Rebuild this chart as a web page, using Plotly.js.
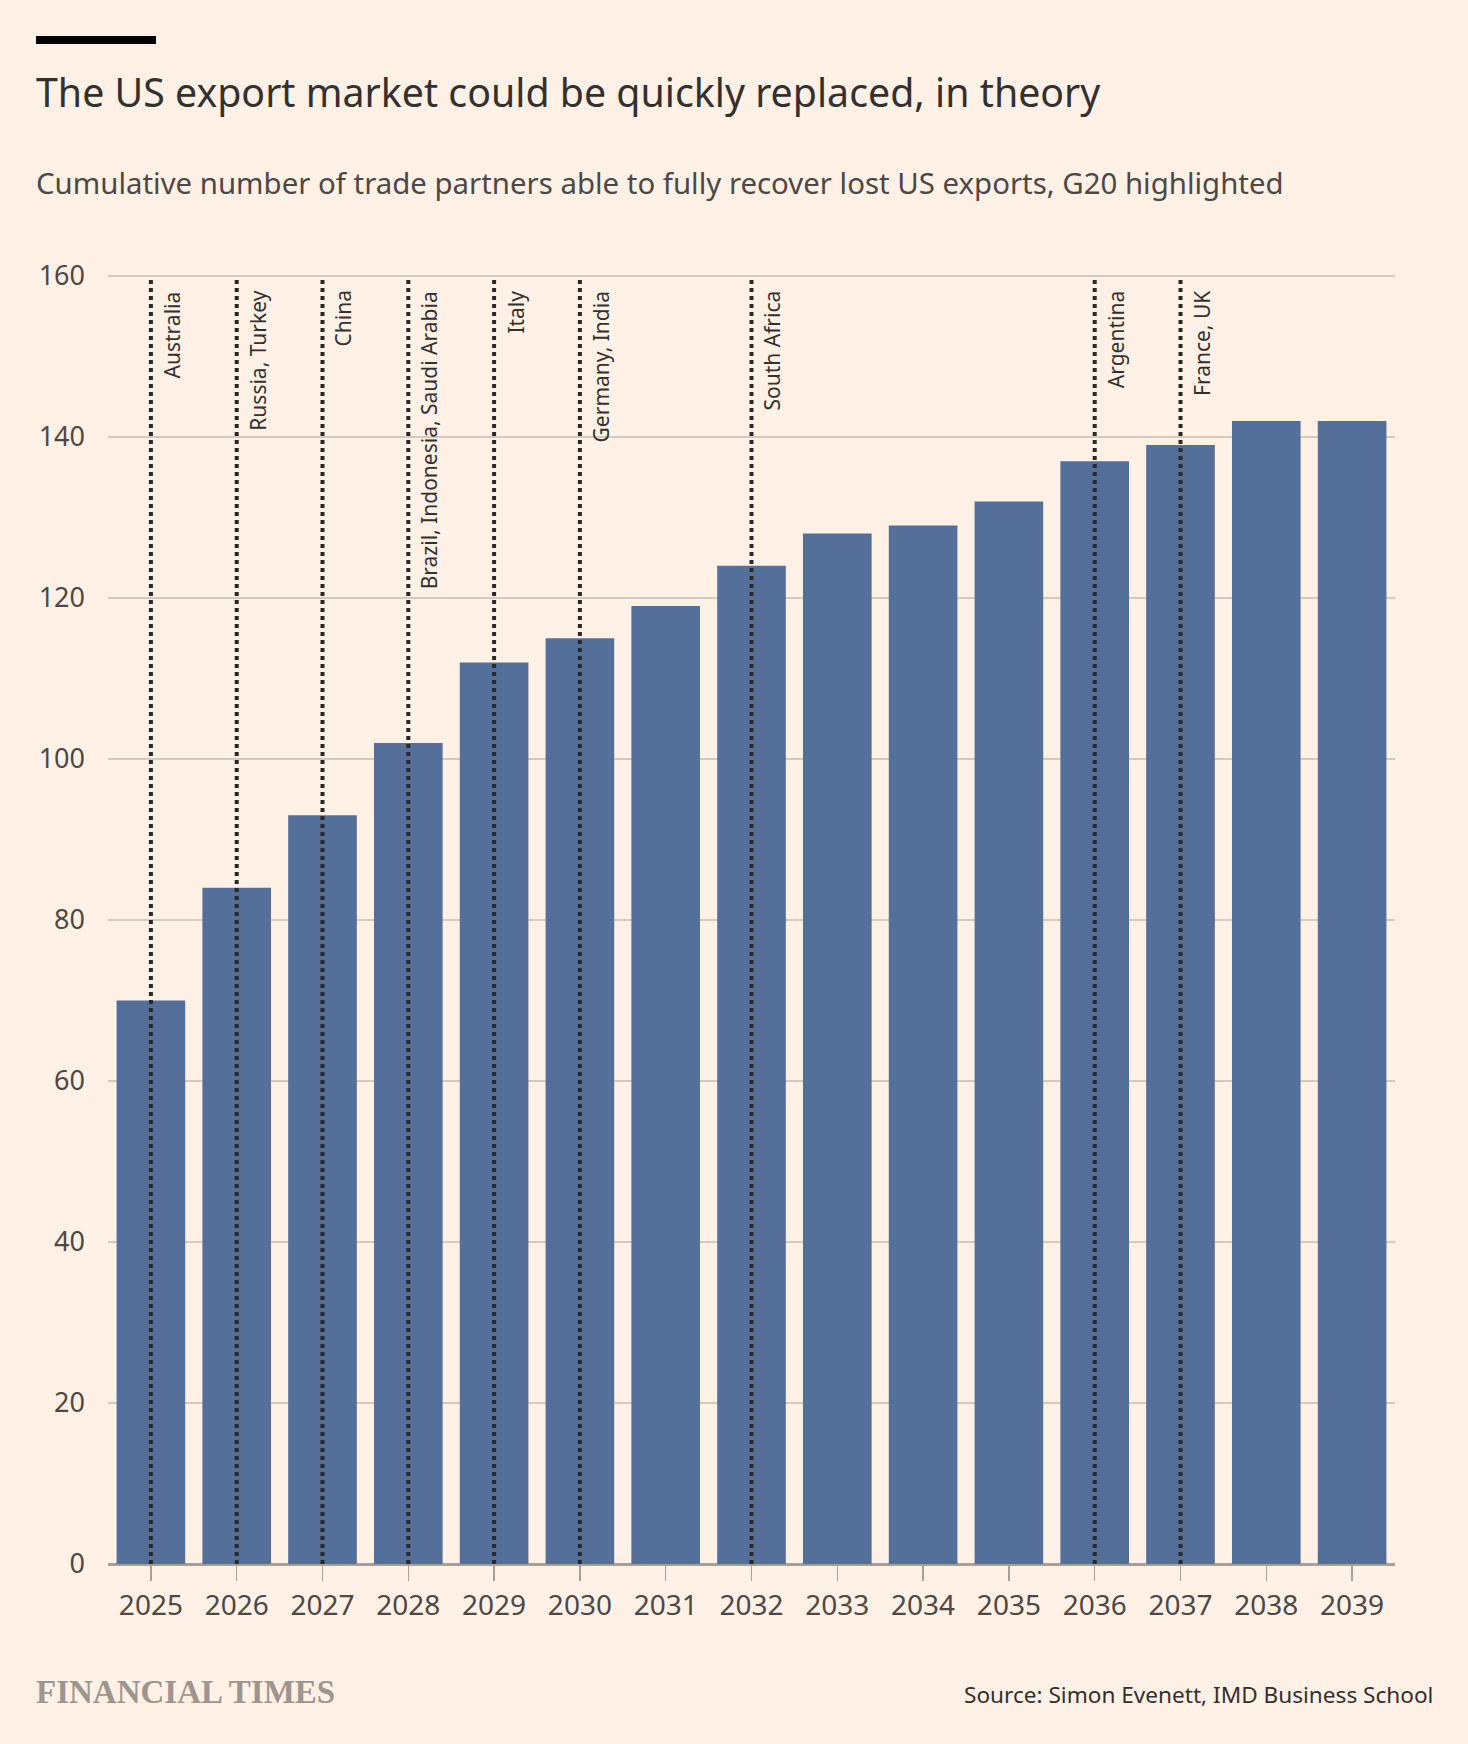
<!DOCTYPE html>
<html>
<head>
<meta charset="utf-8">
<script src="https://cdn.plot.ly/plotly-3.0.1.min.js"></script>
<style>
  html, body { margin: 0; padding: 0; background: #FFF1E5; }
  #chart { width: 1468px; height: 1744px; }
</style>
</head>
<body>
<div id="chart"></div>
<script>
// data
var years = ["2025", "2026", "2027", "2028", "2029", "2030", "2031", "2032",
             "2033", "2034", "2035", "2036", "2037", "2038", "2039"];
var partners = [70, 84, 93, 102, 112, 115, 119, 124, 128, 129, 132, 137, 139, 142, 142];

// G20 members crossing the line in each year
var g20Years = ["2025", "2026", "2027", "2028", "2029", "2030", "2032", "2036", "2037"];
var g20Names = ["Australia", "Russia, Turkey", "China", "Brazil, Indonesia, Saudi Arabia",
                "Italy", "Germany, India", "South Africa", "Argentina", "France, UK"];

var yTicks = [0, 20, 40, 60, 80, 100, 120, 140, 160];
var yTop = 160;

// plot area in page pixels
var W = 1468, H = 1744;
var mL = 108, mR = 73, mT = 272, mB = 180;
var plotW = W - mL - mR, plotH = H - mT - mB;
function px(x) { return (x - mL) / plotW; }
function py(y) { return (H - mB - y) / plotH; }

var font = "Noto Sans, sans-serif";

var data = [{
    x: years,
    y: partners,
    type: "bar",
    marker: {color: "#546F99"},
    hoverinfo: "x+y"
}];

var shapes = [{
    type: "rect", xref: "paper", yref: "paper",
    x0: px(36), x1: px(156), y0: py(44), y1: py(36),
    fillcolor: "#000000", line: {width: 0}
}];

var annotations = [];

g20Years.forEach(function(yr, i){
    var xi = years.indexOf(yr);
    shapes.push({
        type: "line", xref: "x", yref: "y",
        x0: xi, x1: xi, y0: 0, y1: yTop,
        line: {color: "#2B2926", width: 4, dash: "4px,4px"}
    });
    annotations.push({
        x: xi, y: yTop, xref: "x", yref: "y",
        text: g20Names[i], textangle: -90,
        xanchor: "left", yanchor: "top",
        xshift: 5, yshift: -13,
        showarrow: false,
        font: {family: font, size: 21, color: "#33302E"}
    });
});

annotations.push({
    xref: "paper", yref: "paper", x: px(34), y: py(92),
    xanchor: "left", yanchor: "middle", showarrow: false,
    text: "The US export market could be quickly replaced, in theory",
    font: {family: font, size: 39.3, color: "#33302E"}
});
annotations.push({
    xref: "paper", yref: "paper", x: px(34), y: py(183),
    xanchor: "left", yanchor: "middle", showarrow: false,
    text: "Cumulative number of trade partners able to fully recover lost US exports, G20 highlighted",
    font: {family: font, size: 29.4, color: "#4D4845"}
});
annotations.push({
    xref: "paper", yref: "paper", x: px(34), y: py(1692),
    xanchor: "left", yanchor: "middle", showarrow: false,
    text: "<b>FINANCIAL TIMES</b>",
    font: {family: "Liberation Serif, serif", size: 33, color: "#9E958E"}
});
annotations.push({
    xref: "paper", yref: "paper", x: px(1435), y: py(1694),
    xanchor: "right", yanchor: "middle", showarrow: false,
    text: "Source: Simon Evenett, IMD Business School",
    font: {family: font, size: 22.6, color: "#33302E"}
});

var layout = {
    width: W, height: H,
    margin: {l: mL, r: mR, t: mT, b: mB, pad: 0},
    paper_bgcolor: "#FFF1E5",
    plot_bgcolor: "#FFF1E5",
    showlegend: false,
    bargap: 0.2,
    font: {family: font, color: "#4D4845"},
    xaxis: {
        type: "category",
        range: [-0.5, 14.5],
        ticks: "outside", ticklen: 16, tickwidth: 1.5, tickcolor: "#A79F98",
        tickfont: {family: font, size: 28, color: "#4D4845"},
        showgrid: false, zeroline: false, showline: false,
        fixedrange: true
    },
    yaxis: {
        range: [0, 160.5],
        tickvals: yTicks,
        ticks: "", ticklabelstandoff: 22,
        tickfont: {family: font, size: 27, color: "#4D4845"},
        showgrid: true, gridcolor: "#D4CAC0", gridwidth: 2,
        zeroline: true, zerolinecolor: "#A79F98", zerolinewidth: 3,
        showline: false,
        fixedrange: true
    },
    shapes: shapes,
    annotations: annotations
};

try {
    Plotly.newPlot("chart", data, layout, {displayModeBar: false, staticPlot: true});
} catch (e) {
    document.body.insertAdjacentHTML("beforeend", "<pre>" + e + "</pre>");
}
</script>
</body>
</html>
